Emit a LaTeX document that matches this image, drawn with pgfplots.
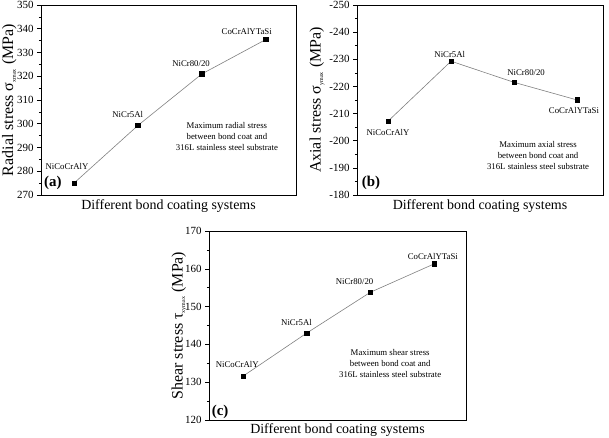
\documentclass[border=0pt]{standalone}
\usepackage{fontspec}
\setmainfont{Liberation Serif}
\usepackage{pgfplots}
\pgfplotsset{compat=1.18}
\pgfplotsset{
  panel/.style={
    scale only axis,
    anchor=south west,
    axis line style={black, line width=0.8bp},
    xtick=\empty,
    ytick pos=left,
    tick align=outside,
    minor y tick num=1,
    major tick length=4bp,
    minor tick length=2.2bp,
    every tick/.style={black, line width=0.6bp},
    /pgf/number format/assume math mode=true,
    yticklabel style={font=\fontsize{11}{12}\selectfont},
    xlabel style={font=\fontsize{14}{16}\selectfont},
    ylabel style={font=\fontsize{16}{18}\selectfont},
    clip=false,
  },
  series/.style={color=gray, line width=0.6bp, mark=square*, mark size=2.2bp,
    mark options={fill=black, draw=black}},
}
\newcommand{\lab}{\fontsize{8.8}{10}\selectfont}
\newcommand{\ann}{\fontsize{8.8}{11}\selectfont}
\newcommand{\pan}{\fontsize{15}{17}\selectfont\bfseries}
\begin{document}
\begin{tikzpicture}
\useasboundingbox (0,0) rectangle (609bp,438bp);
% (a)
\begin{axis}[panel, at={(41bp,243bp)}, width=255bp, height=190bp,
  xmin=0.484, xmax=4.47, ymin=270, ymax=350, ytick={270,280,...,350},
  xlabel={Different bond coating systems},
  xlabel style={at={(axis description cs:0.5,0)}, anchor=center, yshift=-11bp},
  ylabel={Radial stress σ\textsubscript{\fontsize{6}{6}\selectfont xmax} (MPa)},
  ylabel style={at={(axis description cs:-0.124,0.5)}, anchor=center}]
\addplot[series] coordinates {(1,275) (2,299.3) (3,321) (4,335.5)};
\node[font=\lab] at (axis cs:0.89,281.8) {NiCoCrAlY};
\node[font=\lab] at (axis cs:1.84,303.7) {NiCr5Al};
\node[font=\lab] at (axis cs:2.83,325.2) {NiCr80/20};
\node[font=\lab] at (axis cs:3.70,339) {CoCrAlYTaSi};
\node[font=\ann, align=center] at (axis cs:3.39,294.6) {Maximum radial stress\\between bond coat and\\316L stainless steel substrate};
\node[font=\pan] at (axis cs:0.67,275) {(a)};
\end{axis}
% (b)
\begin{axis}[panel, at={(357bp,243bp)}, width=246bp, height=190bp,
  y dir=reverse,
  xmin=0.508, xmax=4.41, ymin=-250, ymax=-180, ytick={-250,-240,...,-180},
  xlabel={Different bond coating systems},
  xlabel style={at={(axis description cs:0.5,0)}, anchor=center, yshift=-11bp},
  ylabel={Axial stress σ\textsubscript{\fontsize{6}{6}\selectfont ymax} (MPa)},
  ylabel style={at={(axis description cs:-0.163,0.5)}, anchor=center}]
\addplot[series] coordinates {(1,-207.2) (2,-229.3) (3,-221.5) (4,-215)};
\node[font=\lab] at (axis cs:1.0,-203.2) {NiCoCrAlY};
\node[font=\lab] at (axis cs:1.98,-231.9) {NiCr5Al};
\node[font=\lab] at (axis cs:3.19,-225) {NiCr80/20};
\node[font=\lab] at (axis cs:3.95,-211) {CoCrAlYTaSi};
\node[font=\ann, align=center] at (axis cs:3.38,-194.6) {Maximum axial stress\\between bond coat and\\316L stainless steel substrate};
\node[font=\pan] at (axis cs:0.73,-184.3) {(b)};
\end{axis}
% (c)
\begin{axis}[panel, at={(209bp,18bp)}, width=257bp, height=189bp,
  xmin=0.466, xmax=4.50, ymin=120, ymax=170, ytick={120,130,...,170},
  xlabel={Different bond coating systems},
  xlabel style={at={(axis description cs:0.5,0)}, anchor=center, yshift=-10bp},
  ylabel={Shear stress τ\textsubscript{\fontsize{6}{6}\selectfont xymax} (MPa)},
  ylabel style={at={(axis description cs:-0.117,0.5)}, anchor=center}]
\addplot[series] coordinates {(1,131.6) (2,143) (3,153.8) (4,161.3)};
\node[font=\lab] at (axis cs:0.91,134.8) {NiCoCrAlY};
\node[font=\lab] at (axis cs:1.84,145.7) {NiCr5Al};
\node[font=\lab] at (axis cs:2.75,156.5) {NiCr80/20};
\node[font=\lab] at (axis cs:3.98,163.3) {CoCrAlYTaSi};
\node[font=\ann, align=center] at (axis cs:3.31,135.0) {Maximum shear stress\\between bond coat and\\316L stainless steel substrate};
\node[font=\pan] at (axis cs:0.64,122.2) {(c)};
\end{axis}
\end{tikzpicture}
\end{document}
